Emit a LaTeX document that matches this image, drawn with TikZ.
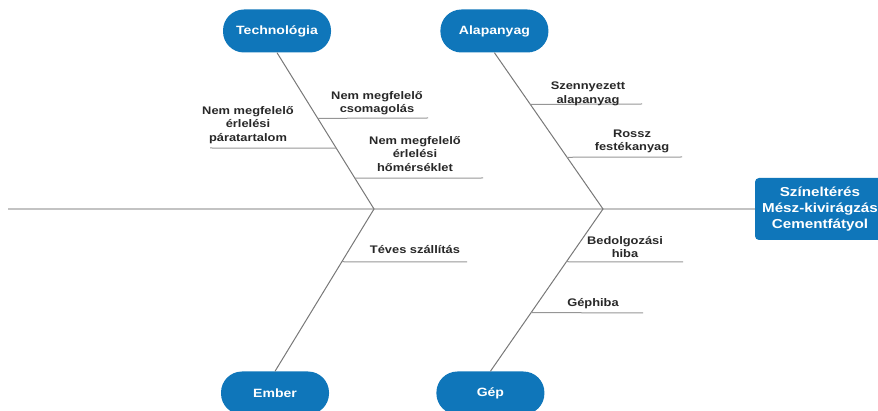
\documentclass[tikz,border=0pt]{standalone}
\usepackage{fontspec}
\setmainfont{Liberation Sans}[FakeStretch=1.17]
\usepackage{tikz}
\usetikzlibrary{positioning,calc}
\definecolor{catblue}{RGB}{15,118,186}
\definecolor{bonegray}{RGB}{120,120,120}
\definecolor{ribgray}{RGB}{150,150,150}
\definecolor{spinegray}{RGB}{195,195,195}
\definecolor{txtgray}{RGB}{40,40,40}
\tikzset{
	cat/.style   = {rectangle,rounded corners=21pt,fill=catblue,text=white,
		minimum width=108pt,minimum height=43pt,inner sep=0pt,
		font=\fontsize{12}{14}\selectfont\bfseries},
	eff/.style   = {rectangle,rounded corners=4pt,fill=catblue,text=white,
		minimum width=130pt,minimum height=62pt,align=center,inner sep=0pt,
		font=\fontsize{13}{16}\selectfont\bfseries},
	lbl/.style   = {align=center,inner sep=0pt,text=txtgray,
		font=\fontsize{11}{13.5}\selectfont\bfseries},
	spine/.style = {spinegray,line width=1.3pt},
	bone/.style  = {bonegray,line width=1pt},
	rib/.style   = {ribgray,line width=1pt},
}

\begin{document}
\begin{tikzpicture}[x=1pt,y=-1pt]
		\useasboundingbox (0,0) rectangle (878,411);
		
		%% Okozat
		\node (eff) [eff] at (820,209) {Színeltérés\\Mész-kivirágzás\\Cementfátyol};
		
		%% Fokategoriak
		\node (tech)  [cat] at (277,31) {Technológia};
		\node (alap)  [cat,right=109pt of tech] {Alapanyag};
		\node (ember) [cat] at (275,393) {Ember};
		\node (gep)   [cat,right=107pt of ember] {Gép};
		
		%% Gerinc es fo agak
		\coordinate (tail) at (8,209);
		\coordinate (j1) at (374,209);
		\coordinate (j2) at (603,209);
		\draw[spine](tail)--(eff.west);
		\draw[bone](tech.south)--(j1)--(ember.north);
		\draw[bone](alap.south)--(j2)--(gep.north);
		
		%% Mellekagak
		\coordinate (t1) at ($(tech.south)!0.42!(j1)$);
		\coordinate (t2) at ($(tech.south)!0.611!(j1)$);
		\coordinate (t3) at ($(tech.south)!0.803!(j1)$);
		\coordinate (a1) at ($(alap.south)!0.331!(j2)$);
		\coordinate (a2) at ($(alap.south)!0.669!(j2)$);
		\coordinate (e1) at ($(j1)!0.325!(ember.north)$);
		\coordinate (g1) at ($(j2)!0.325!(gep.north)$);
		\coordinate (g2) at ($(j2)!0.638!(gep.north)$);
		\coordinate (t1e) at (428,118);
		\coordinate (t2e) at (210,148);
		\coordinate (t3e) at (483,178);
		\coordinate (a1e) at (642,104);
		\coordinate (a2e) at (682,157);
		\coordinate (e1e) at (467,262);
		\coordinate (g1e) at (683,262);
		\coordinate (g2e) at (643,313);
		\foreach \s in {t1,t2,t3,a1,a2,e1,g1,g2} \draw[rib](\s)--(\s e);
		
		%% Okok
		\node (lt1) [lbl] at (377,103) {Nem megfelelő\\csomagolás};
		\node (lt2) [lbl] at (248,125) {Nem megfelelő\\érlelési\\páratartalom};
		\node (lt3) [lbl] at (415,154) {Nem megfelelő\\érlelési\\hőmérséklet};
		\node (la1) [lbl] at (588,94) {Szennyezett\\alapanyag};
		\node (la2) [lbl] at (632,141.5) {Rossz\\festékanyag};
		\node (le1) [lbl] at (415,249.5) {Téves szállítás};
		\node (lg1) [lbl] at (625,247) {Bedolgozási\\hiba};
		\node (lg2) [lbl] at (593,303.5) {Géphiba};
	\end{tikzpicture}
\end{document}
